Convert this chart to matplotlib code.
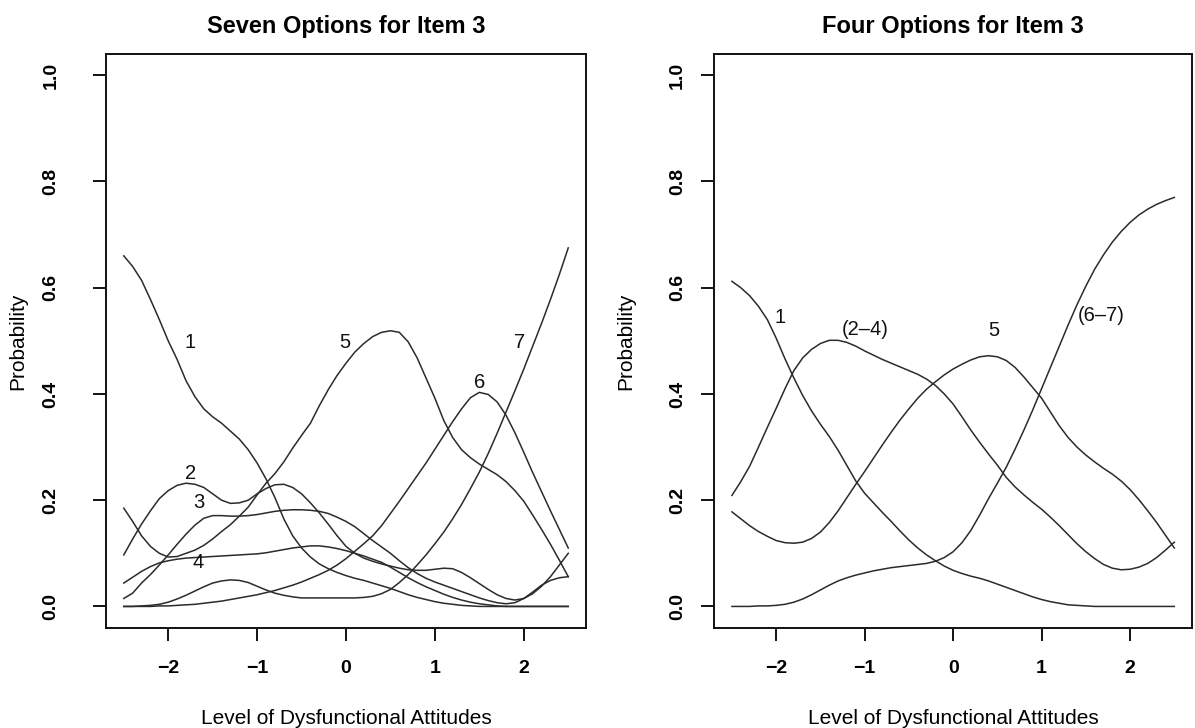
import numpy as np
import matplotlib
matplotlib.use('Agg')
import matplotlib.pyplot as plt

plt.rcParams['font.family'] = ['Liberation Sans', 'DejaVu Sans']

# ability grid (level of dysfunctional attitudes)
theta = [-2.5, -2.4, -2.3, -2.2, -2.1, -2.0, -1.9, -1.8, -1.7, -1.6, -1.5,
         -1.4, -1.3, -1.2, -1.1, -1.0, -0.9, -0.8, -0.7, -0.6, -0.5,
         -0.4, -0.3, -0.2, -0.1, 0.0, 0.1, 0.2, 0.3, 0.4, 0.5,
         0.6, 0.7, 0.8, 0.9, 1.0, 1.1, 1.2, 1.3, 1.4, 1.5,
         1.6, 1.7, 1.8, 1.9, 2.0, 2.1, 2.2, 2.3, 2.4, 2.5]

# seven options
opt7_1 = [0.660, 0.640, 0.614, 0.578, 0.540, 0.500, 0.465, 0.425, 0.395, 0.372, 0.357,
          0.345, 0.330, 0.315, 0.295, 0.270, 0.240, 0.205, 0.165, 0.133, 0.110,
          0.093, 0.080, 0.071, 0.064, 0.058, 0.053, 0.049, 0.044, 0.039, 0.034,
          0.028, 0.022, 0.017, 0.013, 0.009, 0.006, 0.004, 0.002, 0.001, 0.000,
          0.000, 0.000, 0.000, 0.000, 0.000, 0.000, 0.000, 0.000, 0.000, 0.000]
opt7_2 = [0.097, 0.127, 0.155, 0.180, 0.203, 0.218, 0.228, 0.232, 0.230, 0.224, 0.212,
          0.200, 0.194, 0.195, 0.200, 0.212, 0.222, 0.229, 0.230, 0.224, 0.212,
          0.195, 0.176, 0.155, 0.133, 0.113, 0.100, 0.091, 0.085, 0.080, 0.076,
          0.072, 0.069, 0.068, 0.068, 0.070, 0.072, 0.071, 0.064, 0.054, 0.043,
          0.032, 0.022, 0.015, 0.012, 0.015, 0.024, 0.038, 0.056, 0.078, 0.100]
opt7_3 = [0.015, 0.025, 0.044, 0.060, 0.078, 0.097, 0.117, 0.136, 0.153, 0.166, 0.171,
          0.171, 0.170, 0.170, 0.171, 0.173, 0.176, 0.179, 0.181, 0.182, 0.182,
          0.181, 0.179, 0.175, 0.168, 0.160, 0.150, 0.137, 0.124, 0.112, 0.100,
          0.086, 0.073, 0.062, 0.053, 0.046, 0.040, 0.034, 0.028, 0.022, 0.016,
          0.011, 0.007, 0.005, 0.007, 0.015, 0.027, 0.040, 0.049, 0.054, 0.056]
opt7_4 = [0.044, 0.055, 0.066, 0.075, 0.082, 0.086, 0.089, 0.091, 0.092, 0.093, 0.094,
          0.095, 0.096, 0.097, 0.098, 0.099, 0.101, 0.104, 0.107, 0.110, 0.112,
          0.114, 0.114, 0.112, 0.109, 0.105, 0.100, 0.095, 0.089, 0.083, 0.074,
          0.064, 0.054, 0.045, 0.037, 0.030, 0.023, 0.017, 0.012, 0.008, 0.005,
          0.003, 0.001, 0.000, 0.000, 0.000, 0.000, 0.000, 0.000, 0.000, 0.000]
opt7_5 = [0.185, 0.160, 0.133, 0.113, 0.100, 0.093, 0.094, 0.100, 0.106, 0.115, 0.127,
          0.141, 0.154, 0.170, 0.187, 0.210, 0.232, 0.250, 0.272, 0.298, 0.322,
          0.345, 0.378, 0.408, 0.435, 0.458, 0.479, 0.495, 0.508, 0.516, 0.519,
          0.516, 0.498, 0.468, 0.430, 0.392, 0.350, 0.318, 0.295, 0.280, 0.268,
          0.258, 0.248, 0.235, 0.218, 0.198, 0.172, 0.145, 0.117, 0.087, 0.056]
opt7_6 = [0.000, 0.000, 0.000, 0.000, 0.001, 0.001, 0.002, 0.003, 0.004, 0.006, 0.008,
          0.010, 0.013, 0.016, 0.019, 0.022, 0.026, 0.030, 0.035, 0.040, 0.046,
          0.053, 0.060, 0.068, 0.078, 0.090, 0.104, 0.118, 0.133, 0.152, 0.175,
          0.198, 0.222, 0.246, 0.270, 0.296, 0.322, 0.348, 0.372, 0.393, 0.403,
          0.399, 0.385, 0.360, 0.327, 0.290, 0.252, 0.216, 0.180, 0.145, 0.110]
opt7_7 = [0.000, 0.000, 0.001, 0.002, 0.004, 0.008, 0.014, 0.021, 0.029, 0.037, 0.044,
          0.048, 0.050, 0.049, 0.045, 0.038, 0.031, 0.025, 0.021, 0.018, 0.016,
          0.016, 0.016, 0.016, 0.016, 0.016, 0.016, 0.017, 0.019, 0.024, 0.032,
          0.045, 0.060, 0.078, 0.097, 0.118, 0.140, 0.165, 0.192, 0.222, 0.253,
          0.288, 0.326, 0.366, 0.406, 0.447, 0.490, 0.533, 0.578, 0.625, 0.675]

# four options
opt4_1 = [0.612, 0.600, 0.585, 0.565, 0.540, 0.505, 0.466, 0.430, 0.397, 0.368, 0.343,
          0.320, 0.294, 0.265, 0.236, 0.213, 0.195, 0.177, 0.160, 0.142, 0.125,
          0.110, 0.097, 0.086, 0.076, 0.068, 0.062, 0.057, 0.053, 0.048, 0.042,
          0.036, 0.030, 0.024, 0.018, 0.013, 0.009, 0.006, 0.003, 0.002, 0.001,
          0.000, 0.000, 0.000, 0.000, 0.000, 0.000, 0.000, 0.000, 0.000, 0.000]
opt4_24 = [0.209, 0.235, 0.264, 0.300, 0.337, 0.373, 0.410, 0.444, 0.468, 0.484, 0.495,
           0.501, 0.501, 0.497, 0.490, 0.481, 0.473, 0.465, 0.458, 0.451, 0.444,
           0.437, 0.428, 0.416, 0.400, 0.381, 0.357, 0.332, 0.309, 0.287, 0.266,
           0.243, 0.225, 0.210, 0.196, 0.183, 0.168, 0.152, 0.135, 0.118, 0.103,
           0.090, 0.079, 0.072, 0.069, 0.070, 0.074, 0.081, 0.092, 0.106, 0.121]
opt4_5 = [0.178, 0.165, 0.152, 0.141, 0.132, 0.124, 0.120, 0.119, 0.121, 0.128, 0.140,
          0.158, 0.180, 0.205, 0.230, 0.254, 0.279, 0.304, 0.328, 0.351, 0.372,
          0.392, 0.409, 0.423, 0.436, 0.447, 0.456, 0.464, 0.470, 0.472, 0.470,
          0.463, 0.450, 0.432, 0.412, 0.392, 0.366, 0.340, 0.318, 0.300, 0.285,
          0.272, 0.260, 0.249, 0.236, 0.220, 0.201, 0.180, 0.158, 0.134, 0.110]
opt4_67 = [0.000, 0.000, 0.000, 0.001, 0.001, 0.002, 0.004, 0.008, 0.014, 0.022, 0.031,
           0.040, 0.048, 0.054, 0.059, 0.063, 0.067, 0.070, 0.073, 0.075, 0.077,
           0.079, 0.081, 0.085, 0.092, 0.103, 0.120, 0.143, 0.172, 0.203, 0.232,
           0.262, 0.296, 0.332, 0.370, 0.410, 0.450, 0.490, 0.530, 0.568, 0.603,
           0.635, 0.662, 0.686, 0.706, 0.723, 0.737, 0.748, 0.757, 0.764, 0.770]

curves7 = [opt7_1, opt7_2, opt7_3, opt7_4, opt7_5, opt7_6, opt7_7]
curves4 = [opt4_1, opt4_24, opt4_5, opt4_67]

# curve labels: text, x, y
labels7 = [('1', -1.75, 0.497), ('2', -1.75, 0.25), ('3', -1.66, 0.195),
           ('4', -1.66, 0.082), ('5', -0.01, 0.497), ('6', 1.50, 0.422),
           ('7', 1.95, 0.497)]
labels4 = [('1', -1.96, 0.544), ('(2\u20134)', -0.99, 0.522),
           ('5', 0.46, 0.520), ('(6\u20137)', 1.67, 0.547)]

titles = ['Seven Options for Item 3', 'Four Options for Item 3']
x_ticks = [-2, -1, 0, 1, 2]
x_ticklabels = ['\u22122', '\u22121', '0', '1', '2']
y_ticks = [0.0, 0.2, 0.4, 0.6, 0.8, 1.0]
y_ticklabels = ['0.0', '0.2', '0.4', '0.6', '0.8', '1.0']

line_col = '#2b2b2b'

fig = plt.figure(figsize=(11.95, 7.28), dpi=100)
ax_l = fig.add_axes([0.0887, 0.1378, 0.4017, 0.788])
ax_r = fig.add_axes([0.5977, 0.1378, 0.3998, 0.788])

for ax, curves, labs, title, ypad in [(ax_l, curves7, labels7, titles[0], 24),
                                      (ax_r, curves4, labels4, titles[1], 11)]:
    for c in curves:
        ax.plot(theta, c, color=line_col, lw=1.1)
    for txt, tx, ty in labs:
        ax.text(tx, ty, txt, fontsize=14.5, ha='center', va='center', color='#111111')

    ax.set_xlim(-2.7, 2.7)
    ax.set_ylim(-0.04, 1.04)
    ax.set_xticks(x_ticks)
    ax.set_xticklabels(x_ticklabels, fontsize=14, fontweight='bold')
    ax.set_yticks(y_ticks)
    ax.set_yticklabels(y_ticklabels, fontsize=14, fontweight='bold',
                       rotation=90, va='center')
    ax.tick_params(axis='x', direction='out', length=9.5, width=1.3, pad=13.5)
    ax.tick_params(axis='y', direction='out', length=9.5, width=1.3, pad=ypad)
    for sp in ax.spines.values():
        sp.set_linewidth(1.4)
        sp.set_color('#111111')

    ax.set_title(title, fontsize=17, fontweight='bold', pad=15)
    ax.set_xlabel('Level of Dysfunctional Attitudes', fontsize=15)
    ax.set_ylabel('Probability', fontsize=15)
    ax.xaxis.set_label_coords(0.5, -0.142)
    ax.yaxis.set_label_coords(-0.165, 0.5)

fig.savefig('out.png', dpi=100)
